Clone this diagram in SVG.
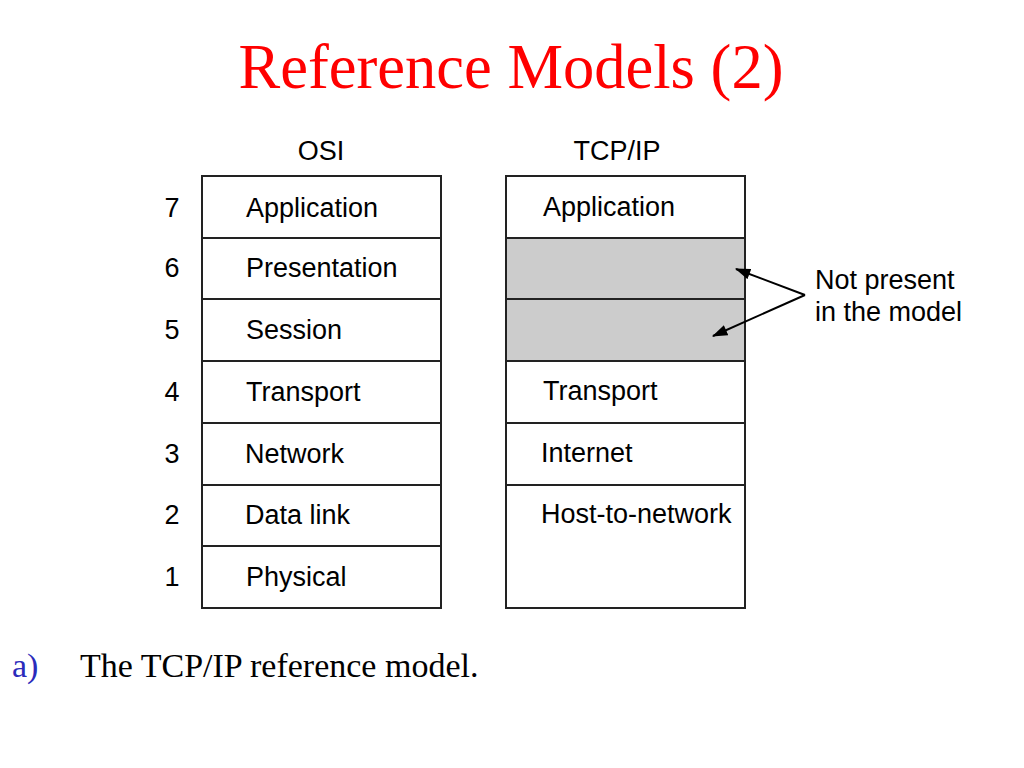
<svg xmlns="http://www.w3.org/2000/svg" width="1024" height="768" viewBox="0 0 1024 768">
<style>
.t{font-family:"Liberation Sans",Arial,sans-serif;font-size:27px;fill:#000}
.box{fill:#fff;stroke:#222;stroke-width:2}
.sep{stroke:#222;stroke-width:2}
.gray{fill:#cccccc}
.ttl{font-family:"Liberation Serif","Times New Roman",serif;font-size:62.5px;fill:#ff0000}
.cap{font-family:"Liberation Serif","Times New Roman",serif;font-size:34px;fill:#000}
.arr{stroke:#000;stroke-width:2;fill:none;marker-end:url(#ah)}
</style>
<defs>
<marker id="ah" viewBox="0 0 14 10" refX="13" refY="5" markerWidth="8" markerHeight="5.5" markerUnits="strokeWidth" orient="auto">
<path d="M0,0 L14,5 L0,10 Z" fill="#000"/>
</marker>
</defs>
<rect width="1024" height="768" fill="#fff"/>
<text class="ttl" x="511" y="88" text-anchor="middle">Reference Models (2)</text>

<g id="osi">
<text class="t" x="321" y="160" text-anchor="middle">OSI</text>
<rect class="box" x="202" y="176" width="239" height="432"/>
<line class="sep" x1="202" y1="238" x2="441" y2="238"/>
<line class="sep" x1="202" y1="299" x2="441" y2="299"/>
<line class="sep" x1="202" y1="361" x2="441" y2="361"/>
<line class="sep" x1="202" y1="423" x2="441" y2="423"/>
<line class="sep" x1="202" y1="485" x2="441" y2="485"/>
<line class="sep" x1="202" y1="546" x2="441" y2="546"/>
<text class="t" x="172" y="217" text-anchor="middle">7</text>
<text class="t" x="172" y="277" text-anchor="middle">6</text>
<text class="t" x="172" y="339" text-anchor="middle">5</text>
<text class="t" x="172" y="401" text-anchor="middle">4</text>
<text class="t" x="172" y="463" text-anchor="middle">3</text>
<text class="t" x="172" y="524" text-anchor="middle">2</text>
<text class="t" x="172" y="586" text-anchor="middle">1</text>
<text class="t" x="246" y="217">Application</text>
<text class="t" x="246" y="277">Presentation</text>
<text class="t" x="246" y="339">Session</text>
<text class="t" x="246" y="401">Transport</text>
<text class="t" x="245" y="463">Network</text>
<text class="t" x="245" y="524">Data link</text>
<text class="t" x="246" y="586">Physical</text>
</g>

<g id="tcpip">
<text class="t" x="617" y="160" text-anchor="middle">TCP/IP</text>
<rect class="box" x="506" y="176" width="239" height="432"/>
<rect class="gray" x="507" y="238" width="237" height="123"/>
<line class="sep" x1="506" y1="238" x2="745" y2="238"/>
<line class="sep" x1="506" y1="299" x2="745" y2="299"/>
<line class="sep" x1="506" y1="361" x2="745" y2="361"/>
<line class="sep" x1="506" y1="423" x2="745" y2="423"/>
<line class="sep" x1="506" y1="485" x2="745" y2="485"/>
<text class="t" x="543" y="216">Application</text>
<text class="t" x="543" y="400">Transport</text>
<text class="t" x="541" y="462">Internet</text>
<text class="t" x="541" y="523">Host-to-network</text>
</g>

<g id="note">
<text class="t" x="815" y="289">Not present</text>
<text class="t" x="815" y="321">in the model</text>
</g>

<g id="connectors">
<line class="arr" x1="805" y1="295" x2="736" y2="269"/>
<line class="arr" x1="805" y1="295" x2="713" y2="336"/>
</g>

<g id="caption">
<text class="cap" x="12" y="677" style="fill:#2b2bbb">a)</text>
<text class="cap" x="80" y="677">The TCP/IP reference model.</text>
</g>
</svg>
